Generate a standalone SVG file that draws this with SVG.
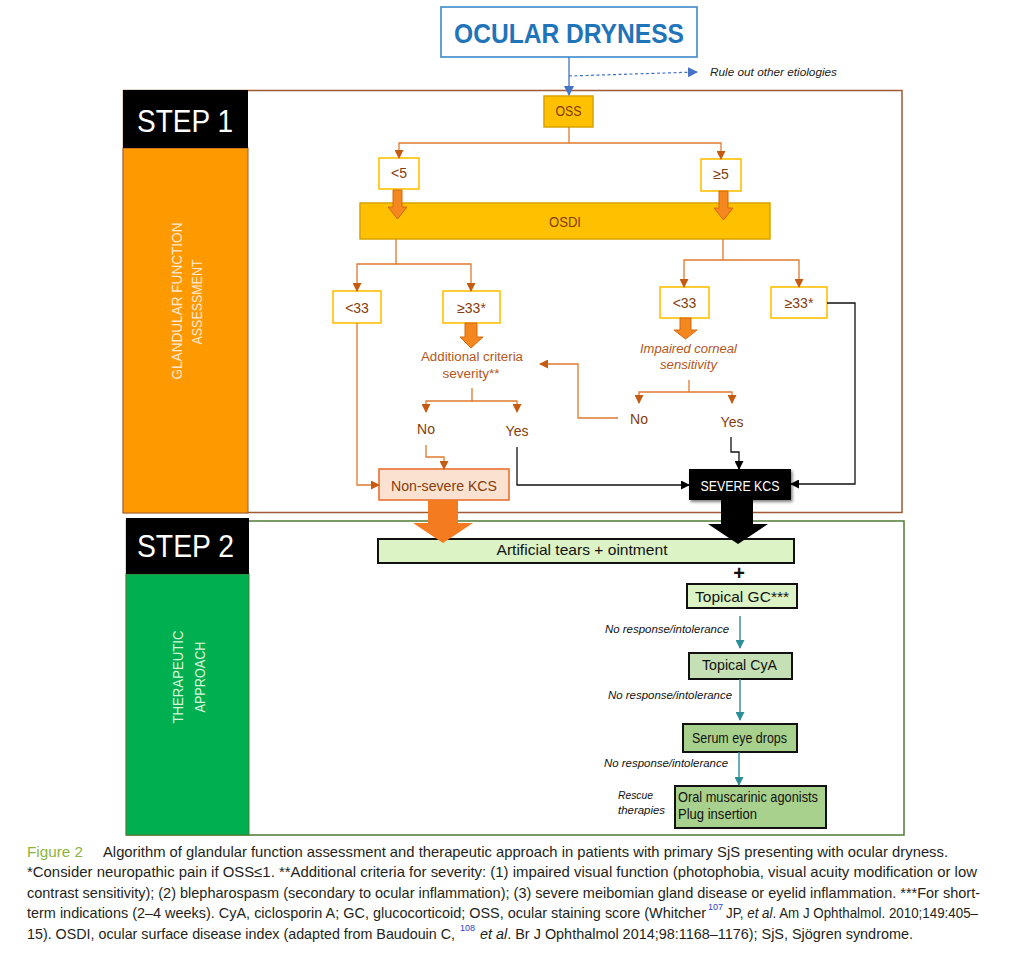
<svg xmlns="http://www.w3.org/2000/svg" width="1021" height="954" viewBox="0 0 1021 954">
<defs>
<style>
text{font-family:"Liberation Sans",Arial,sans-serif;}
.lbl{fill:#843C0C;font-size:14px;text-anchor:middle;}
.lblo{fill:#B4561A;font-size:12.5px;text-anchor:middle;}
.wbox{fill:#ffffff;stroke:#FFC000;stroke-width:1.6;}
.gold{fill:#FFC000;stroke:#D9A300;stroke-width:1.5;}
.oc{fill:none;stroke:#E07A2E;stroke-width:1.3;}
.bc{fill:none;stroke:#111;stroke-width:1.3;}
.tc{fill:none;stroke:#2E8C96;stroke-width:1.4;}
.blk{fill:#F5871F;stroke:#D4690E;stroke-width:1;}
.gbox{stroke:#111;stroke-width:2;}
.t2{fill:#111;font-size:15px;}
.nr{fill:#111;font-size:10.5px;font-style:italic;}
.cap{fill:#231F20;font-size:14.5px;}
.sup{fill:#1F3FD0;font-size:9px;}
</style>
<marker id="ao" markerWidth="9" markerHeight="9" refX="8" refY="4.5" orient="auto" markerUnits="userSpaceOnUse"><path d="M0,0 L9,4.5 L0,9 z" fill="#C55A11"/></marker>
<marker id="ab" markerWidth="9" markerHeight="9" refX="8" refY="4.5" orient="auto" markerUnits="userSpaceOnUse"><path d="M0,0 L9,4.5 L0,9 z" fill="#000"/></marker>
<marker id="at" markerWidth="9" markerHeight="9" refX="8" refY="4.5" orient="auto" markerUnits="userSpaceOnUse"><path d="M0,0 L9,4.5 L0,9 z" fill="#2E8C96"/></marker>
<marker id="abl" markerWidth="10" markerHeight="10" refX="9" refY="5" orient="auto" markerUnits="userSpaceOnUse"><path d="M0,0 L10,5 L0,10 z" fill="#4472C4"/></marker>
<filter id="sh" x="-20%" y="-20%" width="140%" height="150%"><feDropShadow dx="1.5" dy="2" stdDeviation="1.5" flood-color="#000" flood-opacity="0.5"/></filter>
</defs>
<rect width="1021" height="954" fill="#ffffff"/>

<!-- frames and side panels -->
<g id="step1-frame">
<rect x="123.5" y="90.5" width="778.5" height="422" fill="none" stroke="#9E5A32" stroke-width="1.5"/>
<rect x="123" y="148" width="125" height="365" fill="#FF9900" stroke="#9E5A32" stroke-width="1"/>
<rect x="123" y="90" width="125" height="58" fill="#000"/>
<text x="137" y="132" fill="#fff" font-size="32" textLength="96" lengthAdjust="spacingAndGlyphs">STEP 1</text>
<text transform="translate(182,301) rotate(-90)" fill="#FDE9D2" font-size="14" text-anchor="middle" textLength="157" lengthAdjust="spacingAndGlyphs">GLANDULAR FUNCTION</text>
<text transform="translate(202,302) rotate(-90)" fill="#FDE9D2" font-size="14" text-anchor="middle" textLength="85" lengthAdjust="spacingAndGlyphs">ASSESSMENT</text>
</g>
<g id="step2-frame">
<rect x="126.5" y="521" width="777.5" height="314" fill="none" stroke="#4F7A35" stroke-width="1.5"/>
<rect x="126" y="574" width="123" height="261" fill="#00B050" stroke="#4F7A35" stroke-width="1"/>
<rect x="126" y="518" width="123" height="56" fill="#000"/>
<text x="137" y="557" fill="#fff" font-size="31" textLength="97" lengthAdjust="spacingAndGlyphs">STEP 2</text>
<text transform="translate(183,677) rotate(-90)" fill="#D8F5DC" font-size="14" text-anchor="middle" textLength="93" lengthAdjust="spacingAndGlyphs">THERAPEUTIC</text>
<text transform="translate(205,677) rotate(-90)" fill="#D8F5DC" font-size="14" text-anchor="middle" textLength="71" lengthAdjust="spacingAndGlyphs">APPROACH</text>
</g>

<!-- nodes -->
<g id="ocular-dryness">
<rect x="441" y="7" width="256" height="50" fill="#fff" stroke="#3D8ACB" stroke-width="1.6"/>
<text x="569" y="43" fill="#1F74BA" font-size="27" font-weight="bold" text-anchor="middle" textLength="230" lengthAdjust="spacingAndGlyphs">OCULAR DRYNESS</text>
</g>
<g id="rule-out">
<text x="710" y="76" fill="#222" font-size="10" font-style="italic" textLength="127" lengthAdjust="spacingAndGlyphs">Rule out other etiologies</text>
</g>
<g id="oss">
<rect class="gold" x="544" y="96" width="49" height="31"/>
<text class="lbl" x="568.5" y="116" font-size="13" textLength="26" lengthAdjust="spacingAndGlyphs">OSS</text>
</g>
<g id="oss-lt5">
<rect class="wbox" x="379" y="158" width="40" height="31"/>
<text class="lbl" x="399" y="178">&lt;5</text>
</g>
<g id="oss-ge5">
<rect class="wbox" x="701" y="159" width="40" height="32"/>
<text class="lbl" x="721" y="179">≥5</text>
</g>
<g id="osdi">
<rect class="gold" x="360" y="203" width="410" height="36"/>
<text class="lbl" x="565" y="227" textLength="32" lengthAdjust="spacingAndGlyphs">OSDI</text>
</g>
<g id="osdi-left-lt33">
<rect class="wbox" x="333" y="291" width="48" height="32"/>
<text class="lbl" x="357" y="313">&lt;33</text>
</g>
<g id="osdi-left-ge33">
<rect class="wbox" x="443" y="291" width="57" height="32"/>
<text class="lbl" x="471.5" y="313">≥33*</text>
</g>
<g id="osdi-right-lt33">
<rect class="wbox" x="660" y="287" width="49" height="31"/>
<text class="lbl" x="684.5" y="308">&lt;33</text>
</g>
<g id="osdi-right-ge33">
<rect class="wbox" x="771" y="287" width="56" height="31"/>
<text class="lbl" x="799" y="308">≥33*</text>
</g>
<g id="additional-criteria">
<text class="lblo" x="472" y="361" textLength="102" lengthAdjust="spacingAndGlyphs">Additional criteria</text>
<text class="lblo" x="471" y="378" textLength="57" lengthAdjust="spacingAndGlyphs">severity**</text>
</g>
<g id="impaired-corneal">
<text class="lblo" x="688.5" y="353" font-style="italic" textLength="97" lengthAdjust="spacingAndGlyphs">Impaired corneal</text>
<text class="lblo" x="688.5" y="369" font-style="italic" textLength="57" lengthAdjust="spacingAndGlyphs">sensitivity</text>
</g>
<g id="no-left"><text class="lbl" x="426" y="434">No</text></g>
<g id="yes-left"><text class="lbl" x="517" y="436">Yes</text></g>
<g id="no-right"><text class="lbl" x="639" y="424">No</text></g>
<g id="yes-right"><text class="lbl" x="732" y="427">Yes</text></g>
<g id="non-severe-kcs">
<rect x="379" y="469" width="130" height="31" fill="#FBE2D0" stroke="#E97132" stroke-width="1.6"/>
<text class="lbl" x="444" y="491" font-size="15" textLength="106" lengthAdjust="spacingAndGlyphs">Non-severe KCS</text>
</g>
<g id="severe-kcs">
<rect x="689" y="469" width="102" height="31" fill="#000" filter="url(#sh)"/>
<text x="740" y="491" fill="#fff" font-size="14" text-anchor="middle" textLength="79" lengthAdjust="spacingAndGlyphs">SEVERE KCS</text>
</g>

<g id="artificial-tears">
<rect class="gbox" x="378" y="539" width="416" height="24" fill="#DCF3C6"/>
<text class="t2" x="582" y="555" text-anchor="middle" textLength="171" lengthAdjust="spacingAndGlyphs">Artificial tears + ointment</text>
</g>
<g id="plus"><text x="739" y="580" fill="#111" font-size="20" font-weight="bold" text-anchor="middle">+</text></g>
<g id="topical-gc">
<rect class="gbox" x="687" y="584" width="110" height="24" fill="#DCF3C6"/>
<text class="t2" x="695" y="602" textLength="94" lengthAdjust="spacingAndGlyphs">Topical GC***</text>
</g>
<g id="topical-cya">
<rect class="gbox" x="689" y="653" width="103" height="26" fill="#C5E0B4"/>
<text class="t2" x="702" y="670" textLength="75" lengthAdjust="spacingAndGlyphs">Topical CyA</text>
</g>
<g id="serum-eye-drops">
<rect class="gbox" x="683" y="724" width="114" height="28" fill="#A9D18E"/>
<text class="t2" x="692" y="743" font-size="13.5" textLength="95" lengthAdjust="spacingAndGlyphs">Serum eye drops</text>
</g>
<g id="rescue-box">
<rect class="gbox" x="675" y="786" width="151" height="42" fill="#A9D18E"/>
<text class="t2" x="678" y="802" font-size="13.5" textLength="140" lengthAdjust="spacingAndGlyphs">Oral muscarinic agonists</text>
<text class="t2" x="678" y="819" font-size="13.5" textLength="79" lengthAdjust="spacingAndGlyphs">Plug insertion</text>
</g>
<g id="labels-step2">
<text class="nr" x="605" y="633" textLength="124" lengthAdjust="spacingAndGlyphs">No response/intolerance</text>
<text class="nr" x="608" y="699" textLength="124" lengthAdjust="spacingAndGlyphs">No response/intolerance</text>
<text class="nr" x="604" y="767" textLength="124" lengthAdjust="spacingAndGlyphs">No response/intolerance</text>
<text class="nr" x="618" y="799" textLength="35" lengthAdjust="spacingAndGlyphs">Rescue</text>
<text class="nr" x="618" y="814" textLength="47" lengthAdjust="spacingAndGlyphs">therapies</text>
</g>

<!-- connectors -->
<g id="connectors">
<path d="M569,57 V95" fill="none" stroke="#4472C4" stroke-width="1.3" marker-end="url(#abl)"/>
<path d="M569,76 L697,72" fill="none" stroke="#4472C4" stroke-width="1.2" stroke-dasharray="3,2.5" marker-end="url(#abl)"/>

<path class="oc" d="M569,127 V143 H399 V158" marker-end="url(#ao)"/>
<path class="oc" d="M569,143 H721 V159" marker-end="url(#ao)"/>
<path class="oc" d="M396,239 V264 H357 V291" marker-end="url(#ao)"/>
<path class="oc" d="M396,264 H471 V291" marker-end="url(#ao)"/>
<path class="oc" d="M723,239 V260 H684 V287" marker-end="url(#ao)"/>
<path class="oc" d="M723,260 H799 V287" marker-end="url(#ao)"/>
<path class="oc" d="M472,388 V401 H426 V412" marker-end="url(#ao)"/>
<path class="oc" d="M472,401 H517 V412" marker-end="url(#ao)"/>
<path class="oc" d="M689,380 V392 H639 V403" marker-end="url(#ao)"/>
<path class="oc" d="M689,392 H732 V403" marker-end="url(#ao)"/>
<path class="oc" d="M426,445 V457 H444 V469" marker-end="url(#ao)"/>
<path class="oc" d="M357,323 V485 H379" marker-end="url(#ao)"/>
<path class="oc" d="M618,418 H578 V364 H540" marker-end="url(#ao)"/>

<path class="bc" d="M517,447 V485 H689" marker-end="url(#ab)"/>
<path class="bc" d="M731,437 V452 H739 V469" marker-end="url(#ab)"/>
<path class="bc" d="M827,303 H855 V484 H791" marker-end="url(#ab)"/>

<polygon class="blk" points="393,190 402,190 402,207 407,207 397.5,219 388,207 393,207"/>
<polygon class="blk" points="719,191 728,191 728,208 733,208 723.5,220 714,208 719,208"/>
<polygon class="blk" points="465,323 477,323 477,337 483,337 471,348 460,337 465,337"/>
<polygon class="blk" points="680,318 691,318 691,330 697,330 685.5,339 674,330 680,330"/>

<polygon points="428,500 458,500 458,523 473,523 443,543 413,523 428,523" fill="#F47B20"/>
<polygon points="721,500 753,500 753,524 768,524 738,544 708,524 721,524" fill="#000"/>

<path class="tc" d="M740,616 V648" marker-end="url(#at)"/>
<path class="tc" d="M740,679 V720" marker-end="url(#at)"/>
<path class="tc" d="M739,752 V785" marker-end="url(#at)"/>
</g>

<!-- caption -->
<g id="caption">
<text x="27" y="857" fill="#8CB43C" font-size="14.5" textLength="56" lengthAdjust="spacingAndGlyphs">Figure 2</text>
<text class="cap" x="103" y="857" textLength="845" lengthAdjust="spacingAndGlyphs">Algorithm of glandular function assessment and therapeutic approach in patients with primary SjS presenting with ocular dryness.</text>
<text class="cap" x="27" y="877" textLength="950" lengthAdjust="spacingAndGlyphs">*Consider neuropathic pain if OSS≤1. **Additional criteria for severity: (1) impaired visual function (photophobia, visual acuity modification or low</text>
<text class="cap" x="27" y="898" textLength="953" lengthAdjust="spacingAndGlyphs">contrast sensitivity); (2) blepharospasm (secondary to ocular inflammation); (3) severe meibomian gland disease or eyelid inflammation. ***For short-</text>
<text class="cap" x="27" y="918" textLength="679" lengthAdjust="spacingAndGlyphs">term indications (2–4 weeks). CyA, ciclosporin A; GC, glucocorticoid; OSS, ocular staining score (Whitcher</text>
<text class="sup" x="708" y="910">107</text>
<text class="cap" x="726" y="918" textLength="252" lengthAdjust="spacingAndGlyphs">JP, <tspan font-style="italic">et al</tspan>. Am J Ophthalmol. 2010;149:405–</text>
<text class="cap" x="27" y="939" textLength="428" lengthAdjust="spacingAndGlyphs">15). OSDI, ocular surface disease index (adapted from Baudouin C,</text>
<text class="sup" x="460" y="931">108</text>
<text class="cap" x="480" y="939" textLength="433" lengthAdjust="spacingAndGlyphs"><tspan font-style="italic">et al</tspan>. Br J Ophthalmol 2014;98:1168–1176); SjS, Sjögren syndrome.</text>
</g>
</svg>
